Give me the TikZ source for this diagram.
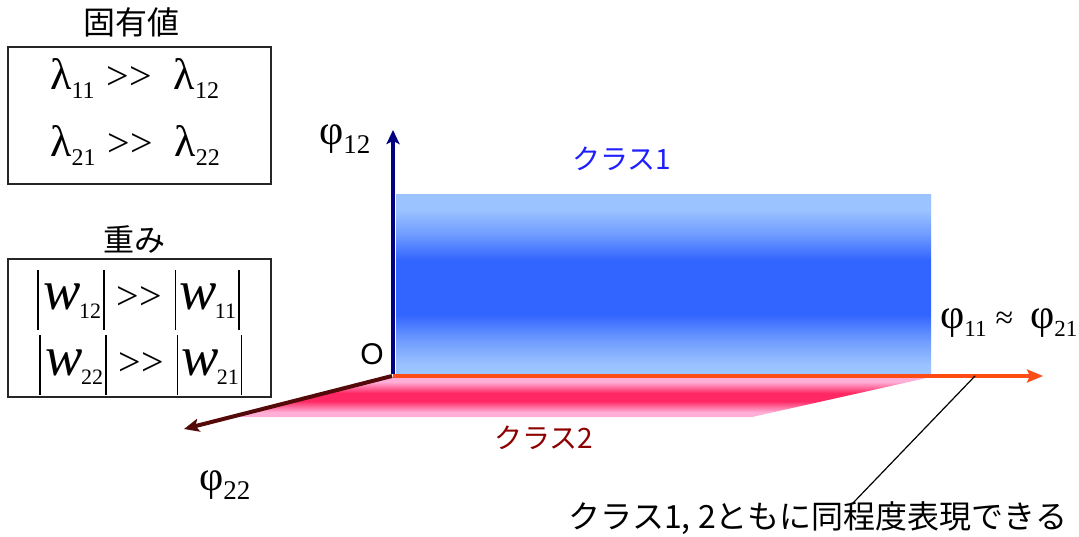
\documentclass[tikz,border=0pt]{standalone}
\usepackage{fontspec}
\setmainfont{Liberation Serif}
\newfontfamily\jp{Noto Sans CJK JP}
\newfontfamily\arialf{Liberation Sans}
\usetikzlibrary{arrows.meta}
\definecolor{navyax}{RGB}{0,0,128}
\definecolor{redax}{RGB}{255,75,20}
\definecolor{brownax}{RGB}{85,10,10}
\definecolor{bluelt}{RGB}{155,195,255}
\definecolor{bluemd}{RGB}{110,155,255}
\definecolor{bluedk}{RGB}{50,100,255}
\definecolor{pinklt}{RGB}{255,175,215}
\definecolor{pinkdk}{RGB}{255,40,100}
\definecolor{clsone}{RGB}{30,30,255}
\definecolor{clstwo}{RGB}{140,0,0}
\pgfdeclareverticalshading{bband}{100bp}{color(0bp)=(bluelt); color(25bp)=(bluelt); color(28bp)=(bluelt); color(35bp)=(bluemd); color(42bp)=(bluedk); color(57bp)=(bluedk); color(64bp)=(bluemd); color(71bp)=(bluelt); color(75bp)=(bluelt); color(100bp)=(bluelt)}
\pgfdeclareverticalshading{pband}{100bp}{color(0bp)=(pinklt); color(25bp)=(pinklt); color(31bp)=(pinklt); color(45bp)=(pinkdk); color(55bp)=(pinkdk); color(69bp)=(pinklt); color(75bp)=(pinklt); color(100bp)=(pinklt)}
\newcommand\fsz[1]{\fontsize{#1}{#1}\selectfont}
\newcommand\lsb[1]{\raisebox{-9pt}{\fsz{24}#1}}
\newcommand\wsb[1]{\raisebox{-9pt}{\fsz{22}#1}}
\newcommand\psb[1]{\raisebox{-9pt}{\fsz{23}#1}}
\newcommand\psbb[1]{\raisebox{-9pt}{\fsz{27}#1}}
\newcommand\vbar{\raisebox{-20pt}{\rule{1.6pt}{60pt}}}
\newcommand\wi{{\fsz{56}\itshape w}}
\newcommand\phig{{\fsz{42}φ}}
\newcommand\mygg{>{}>}
\begin{document}
\begin{tikzpicture}[x=1pt,y=-1pt,
  jptext/.style={font=\jp, inner sep=0pt},
  mathrow/.style={inner sep=0pt, anchor=base west, font=\fsz{40}},
  frame/.style={draw=black!85, line width=1.3pt},
  axis/.style={line width=4pt}]
\useasboundingbox (0,0) rectangle (1079,537);

% shaded regions
\path[shading=pband] (393,377) -- (931,377) -- (752,417) -- (237,417) -- cycle;
\path[shading=bband] (396,195) rectangle (931,376);

% left boxes
\node[jptext, font=\jp\fsz{32}] (t1) at (131,22) {固有値};
\draw[frame] (8,47) rectangle (271,184);
\node[mathrow] (l1) at (50,90) {{\fsz{44}λ}\lsb{11}\hspace{12pt}\mygg\hspace{22pt}{\fsz{44}λ}\lsb{12}};
\node[mathrow] (l2) at (50,157) {{\fsz{44}λ}\lsb{21}\hspace{12pt}\mygg\hspace{22pt}{\fsz{44}λ}\lsb{22}};

\node[jptext, font=\jp\fsz{31}] (t2) at (134,240) {重み};
\draw[frame] (8,259) rectangle (271,397);
\node[mathrow] (w1) at (37,310) {\vbar\hspace{5pt}\wi\hspace{-2pt}\wsb{12}\hspace{2pt}\vbar\hspace{12pt}\mygg\hspace{13pt}\vbar\hspace{3pt}\wi\hspace{-2pt}\wsb{11}\hspace{2pt}\vbar};
\node[mathrow] (w2) at (39,375) {\vbar\hspace{5pt}\wi\hspace{-2pt}\wsb{22}\hspace{2pt}\vbar\hspace{12pt}\mygg\hspace{13pt}\vbar\hspace{3pt}\wi\hspace{-2pt}\wsb{21}\hspace{2pt}\vbar};

% axes
\coordinate (O) at (393,376);
\coordinate (ytip) at (393,130);
\coordinate (xtip) at (1043,376);
\coordinate (ztip) at (184,429);
\draw[axis, redax, -{Stealth[length=16pt,width=13pt,inset=3pt]}] (O) -- (xtip);
\draw[axis, navyax, -{Stealth[length=14pt,width=13pt,inset=3pt]}] ([yshift=2pt]O) -- (ytip);
\draw[axis, brownax, -{Stealth[length=15pt,width=13pt,inset=3pt]}] ([xshift=-1pt]O) -- (ztip);

% labels
\node[inner sep=0pt, anchor=base west] (p12) at (319,145) {\phig\psbb{12}};
\node[inner sep=0pt, anchor=base west] (p11) at (940,328) {\phig\psb{11}\hspace{9pt}{\fsz{32}≈}\hspace{17pt}\phig\psb{21}};
\node[inner sep=0pt, anchor=base west] (p22) at (199,490) {\phig\psbb{22}};
\node[inner sep=0pt, font=\arialf\fsz{30}] (o) at (372,354) {O};

\node[jptext, font=\jp\fsz{28}, text=clsone] (c1) at (622,159) {クラス1};
\node[jptext, font=\jp\fsz{28}, text=clstwo] (c2) at (544,438) {クラス2};

\node[jptext, font=\jp\fsz{32}] (note) at (818,518) {クラス1, 2ともに同程度表現できる};
\coordinate (ann) at (975,376);
\coordinate (annend) at (853,503);
\draw[line width=1.2pt] (ann) -- (annend);
\end{tikzpicture}
\end{document}
